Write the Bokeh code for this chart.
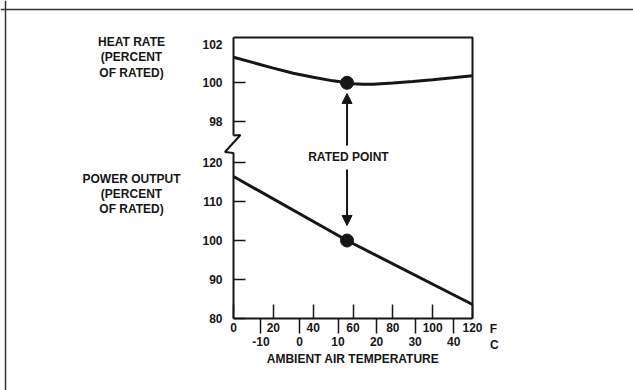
from bokeh.plotting import figure
from bokeh.models import Range1d, LinearAxis, FixedTicker, Arrow, NormalHead, Label, Span
from bokeh.embed import file_html
from bokeh.resources import INLINE

# ---------------- data ----------------
heat_temp_f = [0, 10, 20, 30, 40, 50, 57, 60, 65, 70, 80, 90, 100, 110, 120]
heat_rate = [101.32, 101.04, 100.76, 100.49, 100.29, 100.10, 100.0, 99.95, 99.92, 99.92,
             99.99, 100.07, 100.16, 100.26, 100.37]

power_temp_f = [0, 57, 120]
power_output = [116.4, 100.0, 83.6]

rated_temp_f = [57]
rated_heat_rate = [100.0]
rated_power_output = [100.0]

f_ticks = [0, 20, 40, 60, 80, 100, 120]
c_ticks = [-10, 0, 10, 20, 30, 40]
c_tick_labels = {-10: "-10"}
power_ticks = [80, 90, 100, 110, 120]
heat_ticks = [98, 100]
heat_top_tick = [102]

# axis-break decoration (power-output units)
break_x = [0, 3.5, -4.3, 0]
break_y = [126.92, 127.05, 122.69, 122.44]

FONT = "Liberation Sans"
INK = "#161616"

p = figure(
    width=633, height=390,
    x_range=Range1d(-116.99, 200.83), y_range=Range1d(61.54, 161.54),
    x_axis_type=None, y_axis_type=None,
    min_border=0, min_border_left=0, min_border_right=0, min_border_top=0, min_border_bottom=0,
    output_backend="svg", toolbar_location=None, tools="",
    outline_line_color=None,
    background_fill_color="white", border_fill_color="white",
)
p.grid.visible = False
p.extra_y_ranges = {"hr": Range1d(84.098, 104.253)}
p.extra_x_ranges = {"c": Range1d(-77.58, 86.66)}


def style(ax):
    ax.major_label_text_font = FONT
    ax.major_label_text_font_style = "bold"
    ax.major_label_text_font_size = "12px"
    ax.major_label_text_color = INK
    ax.axis_line_color = INK
    ax.axis_line_width = 2
    ax.major_tick_line_color = INK
    ax.major_tick_line_width = 1.5
    ax.minor_tick_line_color = None
    ax.axis_label_text_font = FONT
    ax.axis_label_text_font_style = "bold"
    ax.axis_label_text_font_size = "12px"
    ax.axis_label_text_color = INK


# bottom: Fahrenheit
fax = LinearAxis(ticker=FixedTicker(ticks=f_ticks), bounds=(0, 120), fixed_location=80)
style(fax)
fax.major_tick_in = 14
fax.major_tick_out = 0
fax.major_label_standoff = 4
p.add_layout(fax, "below")

# bottom: Celsius
cax = LinearAxis(x_range_name="c", ticker=FixedTicker(ticks=c_ticks), bounds=(-17.1, 44.9),
                 fixed_location=76.15, axis_label="AMBIENT AIR TEMPERATURE",
                 major_label_overrides=c_tick_labels)
style(cax)
cax.axis_line_color = None
cax.major_tick_in = 15
cax.major_tick_out = 0
cax.major_label_standoff = 3
cax.axis_label_standoff = 3
p.add_layout(cax, "below")

# left: power output
pax = LinearAxis(ticker=FixedTicker(ticks=power_ticks), bounds=(80, 122.44), fixed_location=0)
style(pax)
pax.major_tick_in = 12
pax.major_tick_out = 0
pax.major_label_standoff = 11
p.add_layout(pax, "left")

# left: heat rate
hax = LinearAxis(y_range_name="hr", ticker=FixedTicker(ticks=heat_ticks), bounds=(97.28, 102.34),
                 fixed_location=0)
style(hax)
hax.major_tick_in = 12
hax.major_tick_out = 0
hax.major_label_standoff = 11
p.add_layout(hax, "left")

hax2 = LinearAxis(y_range_name="hr", ticker=FixedTicker(ticks=heat_top_tick), fixed_location=0)
style(hax2)
hax2.axis_line_color = None
hax2.major_tick_line_color = None
hax2.major_tick_in = 12
hax2.major_tick_out = 0
hax2.major_label_standoff = 11
p.add_layout(hax2, "left")

# box: top and right borders
p.line(x=[0, 120, 120], y=[152.05, 152.05, 80], line_color=INK, line_width=2)
# axis break zigzag
p.line(x=break_x, y=break_y, line_color=INK, line_width=2)

# curves
p.line(heat_temp_f, heat_rate, y_range_name="hr", line_color=INK, line_width=3)
p.line(power_temp_f, power_output, line_color=INK, line_width=3)
p.scatter(rated_temp_f, rated_heat_rate, y_range_name="hr", size=13, color=INK)
p.scatter(rated_temp_f, rated_power_output, size=13, color=INK)

# rated-point arrows
p.add_layout(Arrow(end=NormalHead(size=10, fill_color=INK, line_color=INK),
                   x_start=57, y_start=96.76, x_end=57, y_end=99.45,
                   y_range_name="hr", line_color=INK, line_width=2))
p.add_layout(Arrow(end=NormalHead(size=10, fill_color=INK, line_color=INK),
                   x_start=57, y_start=118.2, x_end=57, y_end=103.85,
                   line_color=INK, line_width=2))


def lab(x, y, text, align="center", baseline="middle"):
    p.add_layout(Label(x=x, y=y, text=text, text_align=align, text_baseline=baseline,
                       text_font=FONT, text_font_style="bold", text_font_size="12px",
                       text_color=INK, text_line_height=1.1))


lab(57.7, 121.54, "RATED POINT")
lab(-51.2, 147.0, "HEAT RATE\n(PERCENT\nOF RATED)")
lab(-51.2, 111.92, "POWER OUTPUT\n(PERCENT\nOF RATED)")
lab(130.5, 77.31, "F")
lab(131.0, 73.33, "C")

# outer frame of the figure: its top and left edges, drawn as spans
p.add_layout(Span(location=-114.47, dimension="height", line_color="#333333", line_width=1.5))
p.add_layout(Span(location=159.23, dimension="width", line_color="#333333", line_width=1.5))

open("out.html", "w").write(file_html(p, INLINE))
